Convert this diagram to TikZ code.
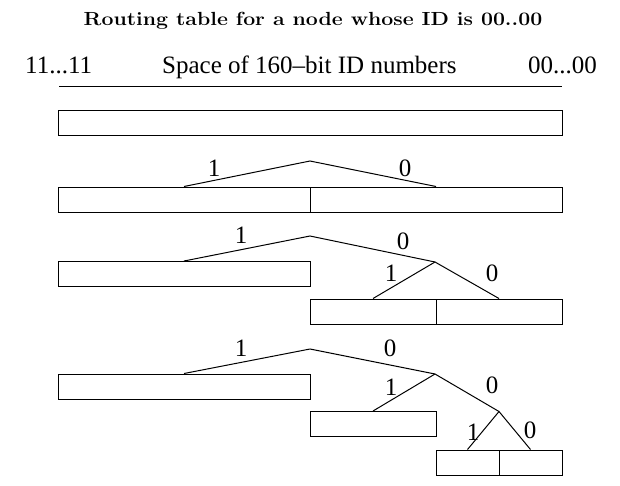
\documentclass[tikz,border=0pt]{standalone}
\usepackage{fontspec}
\newfontfamily\timesfont{Liberation Serif}
\usepackage{tikz}
\usetikzlibrary{positioning}

\tikzset{
  cell/.style={draw, line width=1pt, inner sep=0pt, minimum height=25pt},
  lbl/.style={inner sep=0pt, font=\timesfont\fontsize{25}{28}\selectfont},
  branch/.style={line width=1pt}
}

\begin{document}
\begin{tikzpicture}[x=1pt, y=-1pt]
\useasboundingbox (0,0) rectangle (620,485);

% Title and the ID space
\node[anchor=base, inner sep=0pt, font=\fontsize{19}{22}\selectfont\bfseries] (title) at (313,25) {\scalebox{1.12}[1]{Routing table for a node whose ID is 00..00}};
\node[lbl, anchor=base west] (hi) at (25,73.5) {11...11};
\node[lbl, anchor=base west] (space) at (162,73.5) {Space of 160–bit ID numbers};
\node[lbl, anchor=base east] (lo) at (597,73.5) {00...00};
\coordinate (ruleL) at (59,86.5);
\coordinate (ruleR) at (562,86.5);
\draw[line width=1pt] (ruleL) -- (ruleR);

% Row 1: one bucket
\node[cell, minimum width=504pt] (r1) at (310,123) {};

% Row 2: split in two
\node[cell, minimum width=252pt] (r2l) at (184,199.5) {};
\node[cell, minimum width=252pt] (r2r) at (436,199.5) {};
\coordinate (t2) at (310,161);
\draw[branch] (r2l.north) -- (t2) -- (r2r.north);
\node[lbl] (b2a) at (214,168) {1};
\node[lbl] (b2b) at (405,168) {0};

% Row 3: split the 0 side again
\node[cell, minimum width=252pt] (r3l) at (184,274) {};
\node[cell, minimum width=126pt] (r3a) at (373,311.5) {};
\node[cell, minimum width=126pt] (r3b) at (499,311.5) {};
\coordinate (t3) at (310,236);
\coordinate (t3x) at (435,262);
\draw[branch] (r3l.north) -- (t3) -- (t3x);
\draw[branch] (r3a.north) -- (t3x) -- (r3b.north);
\node[lbl] (b3a) at (241,235) {1};
\node[lbl] (b3b) at (403,241) {0};
\node[lbl] (b3c) at (391,273) {1};
\node[lbl] (b3d) at (492,273) {0};

% Row 4: and once more
\node[cell, minimum width=252pt] (r4l) at (184,386.5) {};
\node[cell, minimum width=126pt] (r4m) at (373,424) {};
\node[cell, minimum width=63pt] (r4a) at (467.5,462.5) {};
\node[cell, minimum width=63pt] (r4b) at (530.5,462.5) {};
\coordinate (t4) at (310,349);
\coordinate (t4x) at (435,374);
\coordinate (t4y) at (499,411.5);
\draw[branch] (r4l.north) -- (t4) -- (t4x) -- (t4y);
\draw[branch] (r4m.north) -- (t4x);
\draw[branch] (r4a.north) -- (t4y) -- (r4b.north);
\node[lbl] (b4a) at (241,348.5) {1};
\node[lbl] (b4b) at (390,348) {0};
\node[lbl] (b4c) at (391,387) {1};
\node[lbl] (b4d) at (492,385) {0};
\node[lbl] (b4e) at (473,432) {1};
\node[lbl] (b4f) at (530,430) {0};
\end{tikzpicture}
\end{document}
